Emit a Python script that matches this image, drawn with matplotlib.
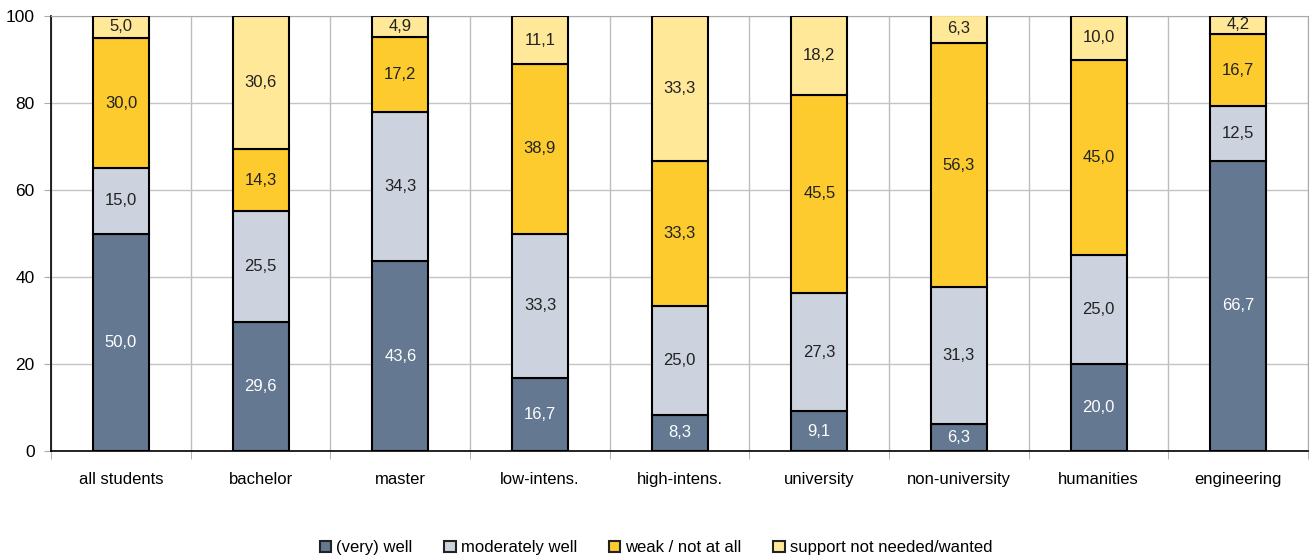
import matplotlib
matplotlib.use('Agg')
import matplotlib.pyplot as plt
from matplotlib.patches import Patch
import numpy as np

plt.rcParams['font.family'] = ['Liberation Sans Narrow', 'Liberation Sans', 'DejaVu Sans']

categories = ['all students', 'bachelor', 'master', 'low-intens.', 'high-intens.',
              'university', 'non-university', 'humanities', 'engineering']
very_well = [50.0, 29.6, 43.6, 16.7, 8.3, 9.1, 6.3, 20.0, 66.7]
moderately_well = [15.0, 25.5, 34.3, 33.3, 25.0, 27.3, 31.3, 25.0, 12.5]
weak = [30.0, 14.3, 17.2, 38.9, 33.3, 45.5, 56.3, 45.0, 16.7]
not_needed = [5.0, 30.6, 4.9, 11.1, 33.3, 18.2, 6.3, 10.0, 4.2]

series = [
    ('(very) well', very_well, '#647891', 'white'),
    ('moderately well', moderately_well, '#cdd3de', '#222222'),
    ('weak / not at all', weak, '#fdcb2e', '#222222'),
    ('support not needed/wanted', not_needed, '#ffe898', '#222222'),
]

fig = plt.figure(figsize=(13.12, 5.6), dpi=100)
ax = fig.add_axes([0.039, 0.1946, 0.958, 0.7768])

x = np.arange(len(categories))
bottom = np.zeros(len(categories))
for name, vals, color, txt in series:
    vals = np.array(vals)
    ax.bar(x, vals, 0.4, bottom=bottom, color=color, edgecolor='black',
           linewidth=1.5, zorder=3)
    for xi, b, v in zip(x, bottom, vals):
        ax.text(xi, b + v / 2, f'{v:.1f}'.replace('.', ','), ha='center',
                va='center', fontsize=12, color=txt, zorder=4)
    bottom += vals

ax.set_xlim(-0.5, len(categories) - 0.5)
ax.set_ylim(0, 100)
ax.set_yticks(range(0, 101, 20))
ax.set_xticks(x)
ax.set_xticklabels(categories)
ax.set_xticks(np.arange(-0.5, len(categories)), minor=True)
ax.tick_params(axis='x', which='major', length=0, labelsize=12, pad=15)
ax.tick_params(axis='x', which='minor', length=6, color='#aaaaaa')
ax.tick_params(axis='y', length=5, color='#aaaaaa', labelsize=12.5, pad=7)
ax.grid(axis='y', color='#c4c4c4', linewidth=1, zorder=0)
ax.grid(axis='x', which='minor', color='#bdbdbd', linewidth=1, zorder=0)

for s in ['top', 'right']:
    ax.spines[s].set_color('#aaaaaa')
for s in ['left', 'bottom']:
    ax.spines[s].set_color('black')
    ax.spines[s].set_linewidth(1.2)

handles = [Patch(facecolor=c, edgecolor='#222222', linewidth=1.5, label=n)
           for n, _, c, _ in series]
fig.legend(handles=handles, loc='center', bbox_to_anchor=(0.5, 0.022), ncol=4,
           frameon=False, fontsize=12, handlelength=0.7, handleheight=0.7,
           handletextpad=0.3, columnspacing=1.9)

fig.savefig('out.png', dpi=100)
plt.close()
